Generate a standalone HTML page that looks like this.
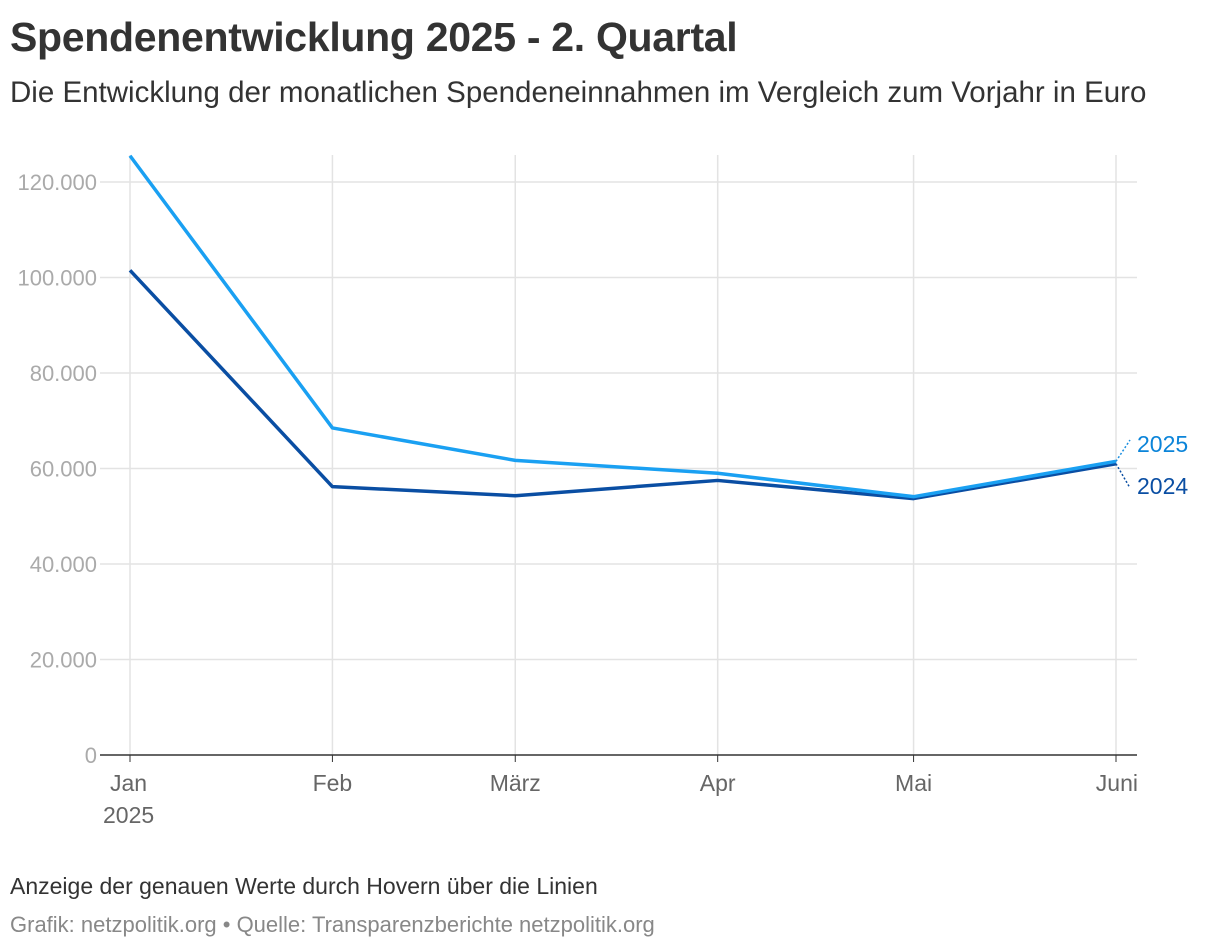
<!DOCTYPE html>
<html><head><meta charset="utf-8"><style>
body{margin:0;background:#fff;font-family:"Liberation Sans",sans-serif;}
#wrap{position:relative;width:1220px;height:950px;overflow:hidden}
h1{position:absolute;left:10px;top:14px;margin:0;font-size:41px;font-weight:bold;color:#333;letter-spacing:-0.3px}
.sub{position:absolute;left:10px;top:76px;font-size:29.5px;color:#333}
.note{position:absolute;left:10px;top:873px;font-size:23px;color:#333}
.src{position:absolute;left:10px;top:912px;font-size:22px;color:#888}
svg{position:absolute;left:0;top:0}
</style></head><body>
<div id="wrap">
<h1>Spendenentwicklung 2025 - 2. Quartal</h1>
<div class="sub">Die Entwicklung der monatlichen Spendeneinnahmen im Vergleich zum Vorjahr in Euro</div>
<svg id="plot" width="1220" height="950"></svg>
<div class="note">Anzeige der genauen Werte durch Hovern über die Linien</div>
<div class="src">Grafik: netzpolitik.org • Quelle: Transparenzberichte netzpolitik.org</div>
</div>
<script>
const months=["Jan","Feb","März","Apr","Mai","Juni"];
const monthDays=[0,31,59,90,120,151];
const values2025=[125500,68500,61700,59000,54100,61500];
const values2024=[101500,56200,54300,57500,53700,61000];
const yTicks=[0,20000,40000,60000,80000,100000,120000];
const yTickLabels=["0","20.000","40.000","60.000","80.000","100.000","120.000"];

const svg=document.getElementById('plot');
const NS="http://www.w3.org/2000/svg";
const x=d=>130+d*(986/151);
const y=v=>755-v*(573/120000);
function mk(t,a,txt){const e=document.createElementNS(NS,t);for(const k in a)e.setAttribute(k,a[k]);if(txt!==undefined)e.textContent=txt;svg.appendChild(e);return e;}

yTicks.forEach((v,i)=>{
  if(v>0){const g=mk('line',{x1:x(0)-30,x2:1137,y1:y(v),y2:y(v),stroke:'#e3e3e3','stroke-width':1.5});
  
  }
  const t=mk('text',{x:97,y:y(v)+8,'text-anchor':'end','font-size':22,fill:'#aaa'},yTickLabels[i]);
  
  
});
months.forEach((m,i)=>{
  const g=mk('line',{x1:x(monthDays[i]),x2:x(monthDays[i]),y1:155,y2:755,stroke:'#e3e3e3','stroke-width':1.5});
  
  
  const tk=mk('line',{x1:x(monthDays[i]),x2:x(monthDays[i]),y1:755,y2:762,stroke:'#333','stroke-width':1});
  
  
  const anchor=i==0?'start':(i==months.length-1?'end':'middle');
  const tx=i==0?x(0)-20:(i==months.length-1?x(monthDays[i])+22:x(monthDays[i]));
  const t=mk('text',{x:tx,y:791,'text-anchor':anchor,'font-size':23,fill:'#666'},m);
  
  
});
const yr=mk('text',{x:x(0)-27,y:823,'font-size':23,fill:'#666'},'2025');


const ax=mk('line',{x1:x(0)-30,x2:1137,y1:755,y2:755,stroke:'#333','stroke-width':1.5});



function line(vals,col,name){
  const p=mk('polyline',{points:vals.map((v,i)=>x(monthDays[i])+','+y(v)).join(' '),fill:'none',stroke:col,'stroke-width':3.5,'stroke-linejoin':'round'});
  
  
}
line(values2024,'#0a4ea3','line-2024');
line(values2025,'#1aa0f2','line-2025');

const lx=x(151);
const c1=mk('path',{d:`M${lx},${y(values2025[5])} L1130,440`,stroke:'#1a8fe0','stroke-dasharray':'2,2',fill:'none','stroke-width':1.5});


const c2=mk('path',{d:`M${lx},${y(values2024[5])} L1130,488`,stroke:'#0a4ea3','stroke-dasharray':'2,2',fill:'none','stroke-width':1.5});


const l1=mk('text',{x:1137,y:452,'font-size':23,fill:'#0b84d9'},'2025');


const l2=mk('text',{x:1137,y:494,'font-size':23,fill:'#0a4ea3'},'2024');


</script>
</body></html>
